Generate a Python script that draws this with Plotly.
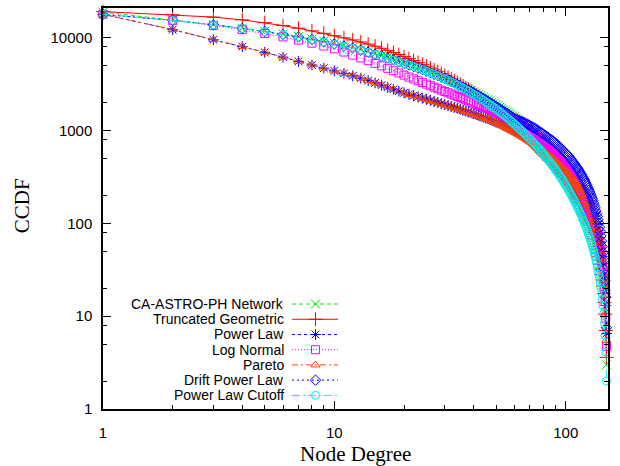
import plotly.graph_objects as go

# Node degree (x) for every curve
degree = list(range(1, 151))

# CCDF values per degree, one list per series
network = [
    18772, 15500, 13800, 12650, 11700, 10900, 10250, 9650, 9120, 8650,
    8220, 7820, 7440, 7080, 6740, 6420, 6120, 5840, 5580, 5340,
    5130, 4930, 4740, 4560, 4390, 4230, 4075, 3925, 3780, 3645,
    3520, 3400, 3285, 3175, 3070, 2965, 2865, 2770, 2680, 2595,
    2515, 2440, 2365, 2290, 2220, 2150, 2085, 2020, 1960, 1900,
    1845, 1790, 1735, 1680, 1630, 1580, 1530, 1480, 1435, 1390,
    1345, 1300, 1260, 1220, 1180, 1140, 1100, 1065, 1030, 995,
    960, 928, 896, 865, 835, 806, 778, 750, 723, 697,
    672, 648, 625, 602, 580, 559, 538, 518, 499, 480,
    462, 445, 428, 412, 396, 381, 366, 352, 338, 325,
    312, 300, 288, 277, 266, 255, 245, 235, 225, 216,
    207, 198, 190, 182, 174, 166, 159, 152, 145, 138,
    132, 126, 120, 114, 108, 103, 98, 93, 88, 83,
    78, 73, 69, 65, 60, 56, 52, 48, 44, 40,
    36, 32, 29, 25, 22, 18, 15, 11, 7, 3,
]

truncated_geometric = [
    19000, 17600, 16600, 15500, 14450, 13450, 12600, 11800, 11100, 10450,
    9920, 9420, 8950, 8500, 8070, 7660, 7280, 6910, 6560, 6230,
    5930, 5650, 5390, 5140, 4910, 4690, 4480, 4280, 4090, 3910,
    3740, 3580, 3430, 3280, 3140, 3005, 2875, 2750, 2630, 2515,
    2405, 2300, 2200, 2105, 2015, 1930, 1850, 1775, 1705, 1640,
    1578, 1518, 1460, 1405, 1352, 1302, 1254, 1208, 1164, 1122,
    1082, 1044, 1008, 974, 941, 909, 878, 848, 819, 791,
    764, 738, 713, 689, 666, 643, 621, 600, 579, 559,
    543, 527, 511, 495, 480, 465, 450, 436, 422, 408,
    396, 385, 374, 363, 352, 341, 331, 320, 310, 300,
    290, 280, 270, 260, 250, 240, 230, 220, 210, 200,
    193, 186, 179, 172, 165, 158, 151, 144, 137, 130,
    125, 120, 115, 110, 105, 100, 95, 90, 85, 80,
    76, 72, 68, 64, 60, 56, 52, 48, 44, 40,
    36, 32, 28, 24.5, 21, 17.5, 14, 10.5, 7, 3.6,
]

power_law = [
    17800, 12150, 9450, 7980, 6930, 6140, 5540, 5060, 4680, 4370,
    4110, 3870, 3645, 3438, 3246, 3070, 2912, 2770, 2645, 2536,
    2447, 2366, 2292, 2224, 2161, 2102, 2047, 1995, 1946, 1899,
    1854, 1811, 1769, 1729, 1690, 1653, 1617, 1582, 1548, 1516,
    1485, 1455, 1425, 1396, 1368, 1340, 1313, 1286, 1260, 1235,
    1210, 1185, 1161, 1137, 1114, 1091, 1068, 1046, 1024, 1003,
    982, 961, 941, 921, 901, 882, 863, 844, 826, 808,
    790, 773, 756, 739, 723, 707, 691, 675, 660, 645,
    630, 615, 601, 587, 573, 559, 546, 533, 520, 507,
    495, 483, 471, 459, 447, 436, 425, 414, 403, 392,
    382, 372, 362, 352, 342, 332, 323, 314, 305, 296,
    287, 278, 269, 261, 253, 245, 237, 229, 221, 213,
    205, 197, 190, 182, 175, 167, 160, 153, 146, 139,
    132, 125, 118, 111, 104, 97, 90, 83, 77, 70,
    63, 57, 50, 44, 37, 31, 25, 19, 13, 6.5,
]

log_normal = [
    17800, 15200, 13460, 12170, 11050, 10150, 9380, 8700, 8100, 7550,
    6975, 6472, 6027, 5630, 5273, 4950, 4659, 4395, 4155, 3938,
    3750, 3580, 3424, 3282, 3150, 3029, 2917, 2813, 2716, 2625,
    2542, 2464, 2391, 2322, 2257, 2195, 2138, 2083, 2030, 1981,
    1936, 1892, 1849, 1807, 1766, 1726, 1687, 1650, 1614, 1578,
    1542, 1507, 1472, 1438, 1404, 1371, 1339, 1307, 1276, 1246,
    1216, 1186, 1157, 1129, 1101, 1073, 1046, 1020, 994, 968,
    943, 919, 895, 871, 848, 826, 804, 782, 761, 741,
    721, 701, 682, 663, 645, 627, 609, 592, 575, 559,
    543, 527, 511, 496, 482, 467, 453, 439, 425, 412,
    399, 386, 374, 362, 350, 338, 326, 315, 304, 293,
    283, 272, 262, 252, 243, 233, 224, 215, 206, 197,
    189, 180, 172, 164, 156, 149, 141, 134, 127, 120,
    113, 106, 99, 93, 86, 80, 74, 68, 62, 56.5,
    51, 45.4, 40, 34.7, 29.5, 24.4, 19.4, 14.4, 9.5, 4.7,
]

pareto = [
    17800, 12200, 9500, 8000, 6950, 6150, 5550, 5070, 4690, 4380,
    4120, 3877, 3650, 3440, 3247, 3070, 2910, 2767, 2640, 2530,
    2440, 2358, 2283, 2214, 2150, 2090, 2034, 1981, 1931, 1883,
    1837, 1793, 1750, 1709, 1670, 1632, 1595, 1560, 1525, 1494,
    1463, 1433, 1403, 1374, 1345, 1317, 1289, 1262, 1235, 1209,
    1181, 1154, 1128, 1103, 1078, 1053, 1029, 1005, 982, 960,
    937, 916, 895, 874, 854, 835, 816, 797, 779, 761,
    744, 727, 710, 694, 678, 662, 647, 632, 617, 603,
    589, 575, 562, 549, 536, 523, 510, 498, 486, 474,
    463, 452, 440, 429, 419, 408, 398, 387, 377, 367,
    358, 348, 339, 329, 320, 311, 302, 294, 285, 276,
    268, 260, 252, 243, 235, 228, 220, 212, 204, 197,
    190, 182, 175, 168, 161, 154, 147, 140, 133, 127,
    120, 113, 107, 101, 94, 88, 82, 75, 69, 63,
    57, 51, 45, 39, 33.5, 28, 22, 17, 11, 5.5,
]

drift_power_law = [
    17700, 15350, 13750, 12550, 11600, 10800, 10120, 9520, 8990, 8510,
    8090, 7695, 7320, 6967, 6635, 6325, 6037, 5770, 5525, 5300,
    5090, 4890, 4700, 4520, 4350, 4190, 4040, 3895, 3755, 3620,
    3490, 3365, 3245, 3130, 3020, 2915, 2815, 2720, 2630, 2540,
    2455, 2375, 2295, 2220, 2145, 2075, 2005, 1940, 1875, 1815,
    1760, 1705, 1655, 1605, 1560, 1515, 1470, 1430, 1390, 1350,
    1327, 1304, 1281, 1259, 1237, 1215, 1193, 1172, 1151, 1130,
    1108, 1085, 1063, 1041, 1019, 997, 976, 955, 934, 913,
    892, 874, 856, 838, 820, 802, 785, 768, 751, 733,
    716, 699, 682, 665, 649, 633, 617, 601, 585, 569,
    554, 539, 524, 509, 494, 479, 465, 451, 437, 423,
    410, 397, 384, 371, 358, 345, 332, 320, 308, 296,
    284, 272, 261, 250, 239, 228, 217, 206, 196, 186,
    176, 166, 156, 146, 136, 127, 118, 109, 100, 91,
    82, 73, 64, 56, 48, 40, 32, 24, 16, 7.5,
]

power_law_cutoff = [
    17800, 15300, 13700, 12500, 11550, 10750, 10080, 9480, 8950, 8470,
    8050, 7652, 7275, 6920, 6587, 6275, 5985, 5717, 5470, 5260,
    5062, 4871, 4687, 4510, 4340, 4177, 4020, 3868, 3722, 3582,
    3448, 3319, 3195, 3076, 2960, 2849, 2743, 2642, 2545, 2451,
    2361, 2274, 2191, 2111, 2034, 1960, 1888, 1820, 1754, 1690,
    1629, 1570, 1513, 1458, 1406, 1355, 1306, 1259, 1214, 1170,
    1128, 1087, 1048, 1010, 974, 939, 905, 872, 840, 810,
    781, 752, 725, 699, 673, 649, 625, 602, 580, 559,
    538, 518, 499, 481, 463, 446, 430, 414, 398, 383,
    368, 354, 341, 328, 315, 303, 291, 279, 268, 257,
    247, 237, 227, 217, 208, 199, 191, 183, 175, 167,
    160, 152, 145, 139, 132, 126, 120, 114, 108, 103,
    98, 93, 88, 83, 78, 74, 70, 66, 62, 58,
    54, 50, 47, 44, 40, 37, 34, 31, 28, 25.5,
    22.7, 20.2, 17.7, 15.3, 12.9, 10.6, 8.4, 6.2, 4.1, 2.0,
]

series_names = [
    "CA-ASTRO-PH Network", "Truncated Geometric", "Power Law", "Log Normal",
    "Pareto", "Drift Power Law", "Power Law Cutoff",
]
series_values = [
    network, truncated_geometric, power_law, log_normal,
    pareto, drift_power_law, power_law_cutoff,
]

# gnuplot-like styling: colour, dash pattern, marker glyph, marker size
styles = [
    ("#00e800", "4px,3px", "x-thin-open", 9),
    ("#ff0000", "solid", "cross-thin-open", 10),
    ("#0000ff", "3px,3px", "asterisk-open", 9),
    ("#ff00ff", "1px,2px", "square-open", 8),
    ("#ff4500", "6px,3px,2px,3px", "triangle-up-open", 8),
    ("#0000ff", "2px,3px", "diamond-open", 8),
    ("#00eeee", "8px,3px,2px,3px", "circle-open", 8),
]

fig = go.Figure()

for name, vals, (color, dash, symbol, size) in zip(series_names, series_values, styles):
    fig.add_trace(go.Scatter(
        x=degree, y=vals, name=name, mode="lines+markers",
        line=dict(color=color, width=1, dash=dash),
        marker=dict(symbol=symbol, size=size, color=color,
                    line=dict(color=color, width=1)),
        cliponaxis=False, showlegend=False,
    ))

# Key drawn by hand (text on the left, sample on the right) on an
# overlay axis pair whose units are screen pixels of the plot area.
key_rows = [303.5, 318.8, 334.1, 349.4, 364.7, 380.0, 395.3]
for name, row, (color, dash, symbol, size) in zip(series_names, key_rows, styles):
    fig.add_trace(go.Scatter(
        x=[292, 338], y=[row, row], mode="lines",
        line=dict(color=color, width=1, dash=dash),
        xaxis="x2", yaxis="y2", showlegend=False, hoverinfo="skip",
    ))
    fig.add_trace(go.Scatter(
        x=[315.5], y=[row], mode="markers",
        marker=dict(symbol=symbol, size=size, color=color,
                    line=dict(color=color, width=1)),
        xaxis="x2", yaxis="y2", showlegend=False, hoverinfo="skip",
        cliponaxis=False,
    ))
    fig.add_annotation(
        x=285, y=row, xref="x2", yref="y2", text=name, showarrow=False,
        xanchor="right", yanchor="middle", borderpad=0,
        font=dict(family="Liberation Sans", size=14, color="black"),
    )

x_minor = [2, 3, 4, 5, 6, 7, 8, 9, 20, 30, 40, 50, 60, 70, 80, 90]
y_minor = [2, 5, 8, 20, 50, 80, 200, 500, 800, 2000, 5000, 8000]

axis_common = dict(
    type="log", showgrid=False, zeroline=False,
    showline=True, linecolor="black", linewidth=1.5, mirror="allticks",
    ticks="inside", ticklen=8, tickwidth=1, tickcolor="black",
    tickfont=dict(family="Liberation Sans", size=15, color="black"),
)

fig.update_layout(
    width=620, height=466,
    margin=dict(l=103, r=12, t=6, b=57),
    paper_bgcolor="white", plot_bgcolor="white",
    xaxis=dict(
        range=[0, 2.1827], tickmode="array",
        tickvals=[1, 10, 100], ticktext=["1", "10", "100"],
        ticklabelstandoff=9,
        minor=dict(tickmode="array", tickvals=x_minor, ticks="inside",
                   ticklen=4, tickwidth=1, tickcolor="black", showgrid=False),
        **axis_common,
    ),
    yaxis=dict(
        range=[0, 4.318], tickmode="array",
        tickvals=[1, 10, 100, 1000, 10000],
        ticktext=["1", "10", "100", "1000", "10000"],
        ticklabelstandoff=6,
        minor=dict(tickmode="array", tickvals=y_minor, ticks="inside",
                   ticklen=4, tickwidth=1, tickcolor="black", showgrid=False),
        **axis_common,
    ),
    xaxis2=dict(overlaying="x", anchor="y2", range=[103, 608], visible=False),
    yaxis2=dict(overlaying="y", anchor="x2", range=[409, 6], visible=False),
    annotations=list(fig.layout.annotations) + [
        dict(text="Node Degree", xref="paper", yref="paper", x=0.5, y=-0.113,
             xanchor="center", yanchor="middle", showarrow=False, borderpad=0,
             font=dict(family="Liberation Serif", size=21, color="black")),
        dict(text="CCDF", xref="paper", yref="paper", x=-0.160, y=0.506,
             xanchor="center", yanchor="middle", showarrow=False, textangle=-90,
             font=dict(family="Liberation Serif", size=21, color="black")),
    ],
)

fig.write_html("out.html")
